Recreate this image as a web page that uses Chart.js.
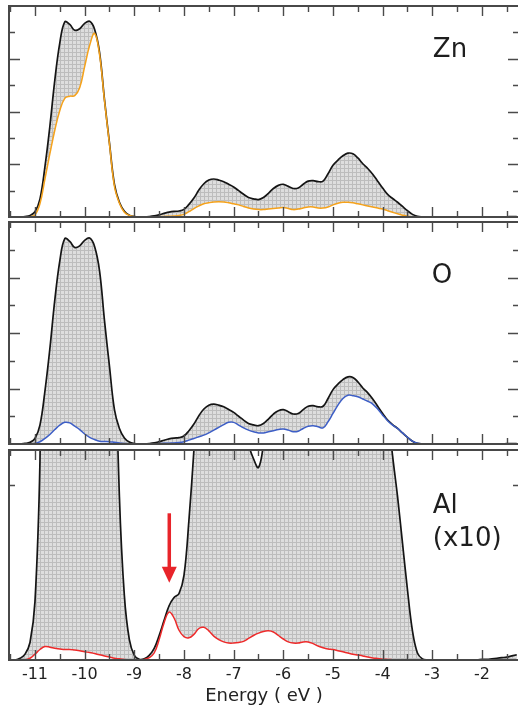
<!DOCTYPE html>
<html><head><meta charset="utf-8">
<script src="https://cdn.jsdelivr.net/npm/chart.js@4/dist/chart.umd.min.js"></script>
<style>
html,body{margin:0;padding:0;background:#fff;overflow:hidden;width:518px;height:707px;position:relative;}
canvas{position:absolute;left:0;}
</style></head><body>
<canvas id="c1" width="522" height="222" style="top:0px"></canvas>
<canvas id="c2" width="522" height="230" style="top:218px"></canvas>
<canvas id="c3" width="522" height="261" style="top:446px"></canvas>
<script>
// Energy grid (eV)
const energy = [
 -11.5,-11.4,-11.3,-11.2,-11.1,-11.0,-10.9,-10.8,-10.7,-10.6,
 -10.5,-10.4,-10.3,-10.2,-10.1,-10.0,-9.9,-9.8,-9.7,-9.6,
 -9.5,-9.4,-9.3,-9.2,-9.1,-9.0,-8.9,-8.8,-8.7,-8.6,
 -8.5,-8.4,-8.3,-8.2,-8.1,-8.0,-7.9,-7.8,-7.7,-7.6,
 -7.5,-7.4,-7.3,-7.2,-7.1,-7.0,-6.9,-6.8,-6.7,-6.6,
 -6.5,-6.4,-6.3,-6.2,-6.1,-6.0,-5.9,-5.8,-5.7,-5.6,
 -5.5,-5.4,-5.3,-5.2,-5.1,-5.0,-4.9,-4.8,-4.7,-4.6,
 -4.5,-4.4,-4.3,-4.2,-4.1,-4.0,-3.9,-3.8,-3.7,-3.6,
 -3.5,-3.4,-3.3,-3.2,-3.1,-3.0,-2.9,-2.8,-2.7,-2.6,
 -2.5,-2.4,-2.3,-2.2,-2.1,-2.0,-1.9,-1.8,-1.7,-1.6,
 -1.5,-1.4,-1.3
];
// Total DOS (black, shaded)
const totalDos = [
 0,0,0.003,0.01,0.03,0.1,0.34,0.95,1.72,2.6,
 3.3,3.7,3.65,3.54,3.57,3.67,3.71,3.56,3.12,2.22,
 1.4,0.62,0.28,0.11,0.035,0.008,0.001,0.002,0.008,0.02,
 0.042,0.068,0.093,0.107,0.114,0.145,0.24,0.36,0.51,0.63,
 0.7,0.72,0.7,0.67,0.62,0.57,0.5,0.43,0.37,0.345,
 0.33,0.37,0.45,0.54,0.6,0.62,0.58,0.54,0.55,0.62,
 0.68,0.69,0.67,0.68,0.82,0.98,1.08,1.16,1.21,1.2,
 1.12,1.01,0.92,0.81,0.68,0.55,0.43,0.35,0.28,0.2,
 0.12,0.05,0.012,0.002,0,0,0,0,0,0,
 0,0,0,0,0,0.001,0.001,0.002,0.003,0.004,
 0.005,0.007,0.009
];
// Zn partial DOS (orange)
const znDos = [
 0,0,0,0.001,0.006,0.04,0.25,0.72,1.2,1.65,
 2.02,2.25,2.29,2.3,2.45,2.85,3.25,3.48,3.08,2.2,
 1.38,0.58,0.26,0.09,0.03,0.008,0,0,0.001,0.003,
 0.005,0.01,0.015,0.02,0.03,0.05,0.1,0.16,0.21,0.25,
 0.27,0.285,0.29,0.285,0.27,0.25,0.23,0.2,0.17,0.15,
 0.14,0.14,0.15,0.16,0.17,0.18,0.16,0.14,0.15,0.17,
 0.19,0.19,0.17,0.17,0.19,0.23,0.26,0.28,0.28,0.27,
 0.25,0.23,0.21,0.19,0.17,0.15,0.12,0.09,0.06,0.035,
 0.015,0.005,0,0,0,0,0,0,0,0,
 0,0,0,0,0,0.001,0.001,0.002,0.002,0.003,
 0.004,0.005,0.006
];
// O partial DOS (blue)
const oDos = [
 0,0,0,0,0.002,0.01,0.04,0.1,0.17,0.26,
 0.34,0.39,0.38,0.32,0.26,0.18,0.12,0.08,0.05,0.045,
 0.04,0.03,0.02,0.008,0.003,0,0,0,0.002,0.004,
 0.008,0.012,0.015,0.02,0.025,0.04,0.07,0.1,0.13,0.16,
 0.2,0.25,0.3,0.35,0.39,0.39,0.34,0.29,0.25,0.22,
 0.2,0.2,0.22,0.24,0.26,0.27,0.25,0.22,0.23,0.28,
 0.32,0.33,0.31,0.29,0.4,0.55,0.7,0.82,0.88,0.87,
 0.85,0.81,0.77,0.72,0.63,0.52,0.42,0.34,0.28,0.2,
 0.12,0.05,0.012,0.002,0,0,0,0,0,0,
 0,0,0,0,0,0,0,0,0,0,
 0,0,0
];
// Al partial DOS x10 (red)
const alDos = [
 0,0,0,0,0.003,0.01,0.018,0.023,0.022,0.02,
 0.019,0.018,0.018,0.017,0.016,0.014,0.013,0.011,0.009,0.007,
 0.005,0.003,0.002,0.001,0,0,0,0.001,0.004,0.012,
 0.035,0.064,0.082,0.072,0.051,0.04,0.038,0.044,0.054,0.056,
 0.05,0.041,0.035,0.031,0.029,0.029,0.03,0.032,0.037,0.042,
 0.046,0.049,0.05,0.048,0.042,0.036,0.031,0.029,0.029,0.031,
 0.031,0.028,0.024,0.021,0.019,0.018,0.016,0.014,0.012,0.01,
 0.0085,0.007,0.005,0.0035,0.0025,0.0015,0.001,0.0005,0,0,
 0,0,0,0,0,0,0,0,0,0,
 0,0,0,0,0,0,0,0,0,0,
 0,0,0
];
const xMajorTicks = [-11,-10,-9,-8,-7,-6,-5,-4,-3,-2];
const xMinorTicks = [-11.5,-10.5,-9.5,-8.5,-7.5,-6.5,-5.5,-4.5,-3.5,-2.5,-1.5];
const yMajorTicks = [1,2,3];
const yMinorTicks = [0.5,1.5,2.5,3.5];
const alMinorTicks = [0.3];

const X_MIN = -11.523, X_MAX = -1.255;
const FONT = '"DejaVu Sans", "Liberation Sans", sans-serif';

function makeHatch() {
  const c = document.createElement('canvas'); c.width = 4; c.height = 4;
  const g = c.getContext('2d');
  g.fillStyle = '#dedede'; g.fillRect(0,0,4,4);
  g.fillStyle = '#bdbdbd'; g.fillRect(0,0,4,1); g.fillRect(0,0,1,4);
  return g.createPattern(c, 'repeat');
}
const hatch = makeHatch();

const framePlugin = {
  id: 'panelFrame',
  afterDatasetsDraw(chart, args, o) {
    const {ctx, chartArea: a} = chart;
    const xs = chart.scales.x, ys = chart.scales.y;
    ctx.save();
    ctx.strokeStyle = '#4a4a4a';
    ctx.lineWidth = 1.4;
    ctx.beginPath();
    const xt = (vals, len) => vals.forEach(v => {
      const px = Math.round(xs.getPixelForValue(v)) + 0.5;
      ctx.moveTo(px, a.top); ctx.lineTo(px, a.top + len);
      ctx.moveTo(px, a.bottom); ctx.lineTo(px, a.bottom - len);
    });
    const yt = (vals, len) => vals.forEach(v => {
      const py = Math.round(ys.getPixelForValue(v)) + 0.5;
      ctx.moveTo(a.left, py); ctx.lineTo(a.left + len, py);
      ctx.moveTo(a.right, py); ctx.lineTo(a.right - len, py);
    });
    xt(xMajorTicks, 10); xt(xMinorTicks, 6);
    yt(o.yMajor || [], 11); yt(o.yMinor || [], 6);
    ctx.stroke();
    ctx.lineWidth = 2;
    ctx.strokeStyle = '#484848';
    ctx.strokeRect(a.left, a.top, a.right - a.left, a.bottom - a.top);
    // panel labels
    ctx.fillStyle = '#1e1e1e';
    ctx.font = '26px ' + FONT;
    ctx.textAlign = 'left'; ctx.textBaseline = 'alphabetic';
    (o.labels || []).forEach(l => ctx.fillText(l.text, xs.getPixelForValue(l.x), ys.getPixelForValue(l.y)));
    // arrow
    if (o.arrow) {
      const ar = o.arrow;
      const px = xs.getPixelForValue(ar.x);
      const y0 = ys.getPixelForValue(ar.y0), y1 = ys.getPixelForValue(ar.y1), yh = ys.getPixelForValue(ar.head);
      ctx.strokeStyle = '#e8242a'; ctx.fillStyle = '#e8242a';
      ctx.lineWidth = 3.5;
      ctx.beginPath(); ctx.moveTo(px, y0); ctx.lineTo(px, yh + 1); ctx.stroke();
      ctx.beginPath(); ctx.moveTo(px - 7.5, yh); ctx.lineTo(px + 7.5, yh); ctx.lineTo(px, y1); ctx.closePath(); ctx.fill();
    }
    ctx.restore();
  }
};

function makePanel(id, partial, color, yMax, pad, frameOpts, showX) {
  const xScale = {
    type: 'linear', min: X_MIN, max: X_MAX, display: !!showX, position: 'bottom',
    grid: {display: false, drawTicks: false}, border: {display: false},
    ticks: {stepSize: 1, includeBounds: false, autoSkip: false, maxRotation: 0, padding: 5,
            color: '#222', font: {family: FONT, size: 16}},
    title: {display: true, text: 'Energy ( eV )', color: '#222', font: {family: FONT, size: 18}, padding: 0}
  };
  if (showX) xScale.afterFit = (s) => { s.height = 47; };
  return new Chart(document.getElementById(id), {
    type: 'line',
    data: {
      labels: energy,
      datasets: [
        {data: partial, borderColor: color, borderWidth: 1.5, fill: false, pointRadius: 0, tension: 0.4},
        {data: totalDos, borderColor: '#151515', borderWidth: 1.7, backgroundColor: hatch, fill: '-1', pointRadius: 0, tension: 0.4}
      ]
    },
    options: {
      responsive: false, animation: false, devicePixelRatio: 1,
      layout: {padding: pad},
      plugins: {legend: {display: false}, tooltip: {enabled: false}, panelFrame: frameOpts},
      scales: {
        x: xScale,
        y: {type: 'linear', min: 0, max: yMax, display: false}
      }
    },
    plugins: [framePlugin]
  });
}

makePanel('c1', znDos, '#f5a21b', 4, {left: 9, right: 3, top: 6, bottom: 5},
  {yMajor: yMajorTicks, yMinor: yMinorTicks, labels: [{text: 'Zn', x: -2.99, y: 3.04}]});
makePanel('c2', oDos, '#3d5ec6', 4, {left: 9, right: 3, top: 4, bottom: 4},
  {yMajor: yMajorTicks, yMinor: yMinorTicks, labels: [{text: 'O', x: -3.01, y: 2.9}]});
makePanel('c3', alDos, '#ee2a2a', 0.36, {left: 9, right: 3, top: 4, bottom: 0},
  {yMajor: [], yMinor: alMinorTicks,
   labels: [{text: 'Al', x: -2.99, y: 0.2525}, {text: '(x10)', x: -2.99, y: 0.1954}],
   arrow: {x: -8.296, y0: 0.2515, y1: 0.1325, head: 0.16}}, true);
</script>
</body></html>
